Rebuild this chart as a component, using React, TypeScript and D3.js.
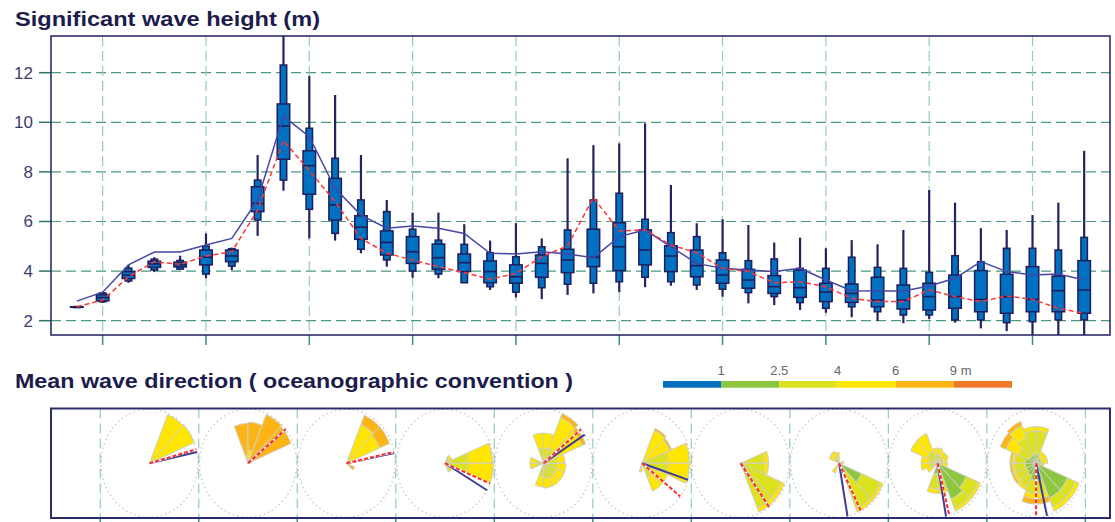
import React from 'react';
import * as d3 from 'd3';

// Ensemble significant wave height (m), one box every 6 h
const hsMin = [2.52, 2.72, 3.53, 3.96, 4.05, 3.71, 4.04, 5.42, 7.24, 5.32, 5.23, 4.72, 4.18, 3.73, 3.71, 3.53, 3.24, 2.94, 2.87, 3.04, 3.1, 3.15, 3.35, 3.41, 3.24, 2.97, 2.7, 2.63, 2.43, 2.32, 2.14, 1.99, 1.9, 2.06, 1.92, 1.69, 1.58, 1.3, 1.3, 1.3];
const hsP10 = [2.53, 2.76, 3.6, 4.04, 4.08, 3.88, 4.2, 6.06, 7.67, 6.49, 5.52, 4.88, 4.45, 4.0, 3.88, 3.53, 3.37, 3.15, 3.33, 3.47, 3.51, 3.57, 3.75, 3.57, 3.44, 3.27, 3.13, 2.97, 2.73, 2.5, 2.56, 2.36, 2.23, 2.23, 2.03, 2.03, 1.92, 1.96, 2.03, 2.03];
const hsP25 = [2.54, 2.8, 3.7, 4.15, 4.17, 4.25, 4.38, 6.4, 8.51, 7.1, 6.06, 5.28, 4.65, 4.31, 4.07, 3.98, 3.53, 3.51, 3.75, 3.94, 4.18, 4.02, 4.25, 3.98, 3.77, 3.51, 3.31, 3.1, 2.94, 2.77, 2.74, 2.56, 2.47, 2.43, 2.5, 2.36, 2.3, 2.36, 2.36, 2.3];
const hsMedian = [2.55, 2.93, 3.84, 4.29, 4.26, 4.56, 4.61, 6.73, 9.85, 8.25, 6.67, 5.77, 5.16, 4.78, 4.54, 4.34, 3.98, 3.77, 4.31, 4.45, 4.56, 4.98, 4.85, 4.61, 4.22, 3.84, 3.64, 3.37, 3.33, 3.15, 3.1, 2.83, 2.83, 2.97, 2.97, 2.86, 2.97, 2.86, 3.21, 3.24];
const hsP75 = [2.56, 3.05, 3.98, 4.4, 4.36, 4.85, 4.85, 7.4, 10.74, 8.85, 7.74, 6.23, 5.62, 5.39, 5.09, 4.69, 4.41, 4.25, 4.65, 4.88, 5.69, 5.95, 5.66, 5.02, 4.85, 4.45, 4.07, 3.82, 4.04, 3.51, 3.48, 3.75, 3.44, 3.51, 3.84, 4.02, 3.87, 4.18, 3.8, 4.42];
const hsP90 = [2.57, 3.12, 4.12, 4.48, 4.43, 5.01, 4.9, 7.67, 12.31, 9.76, 8.55, 6.87, 6.4, 5.69, 5.25, 5.08, 4.74, 4.58, 4.98, 5.66, 6.87, 7.14, 6.09, 5.55, 5.39, 4.74, 4.42, 4.49, 4.11, 4.11, 4.56, 4.15, 4.11, 3.95, 4.62, 4.38, 4.92, 4.92, 4.85, 5.36];
const hsMax = [2.58, 3.16, 4.25, 4.56, 4.62, 5.52, 4.95, 8.68, 14.0, 11.87, 11.1, 8.68, 6.87, 6.36, 6.36, 5.89, 5.23, 5.93, 5.32, 8.55, 9.08, 9.15, 9.96, 7.47, 5.93, 6.09, 5.86, 5.15, 5.35, 4.92, 5.25, 5.08, 5.66, 7.27, 6.76, 5.73, 5.66, 6.26, 6.76, 8.85];
const hsMean = [2.79, 3.15, 4.25, 4.77, 4.77, 5.05, 5.32, 6.87, 10.25, 9.42, 7.34, 6.26, 5.73, 5.82, 5.73, 5.52, 4.72, 4.69, 4.78, 4.69, 4.54, 5.39, 5.66, 4.98, 4.31, 4.11, 4.04, 3.98, 4.11, 3.64, 3.21, 3.2, 3.2, 3.4, 3.71, 4.38, 3.98, 3.84, 3.88, 3.64];
const hsControl = [2.56, 2.83, 3.77, 4.38, 4.27, 4.61, 4.78, 6.46, 9.26, 8.05, 6.8, 5.32, 4.72, 4.45, 4.18, 3.94, 3.67, 3.91, 4.58, 5.02, 6.96, 5.62, 5.66, 5.05, 4.74, 4.11, 3.98, 3.53, 3.57, 3.37, 2.9, 2.77, 2.77, 3.24, 2.97, 2.77, 3.0, 2.86, 2.5, 2.3];

const hsTicks = [2, 4, 6, 8, 10, 12];
const dayStartSteps = [1, 5, 9, 13, 17, 21, 25, 29, 33, 37];
const roseDayTicks = [0, 1, 2, 3, 4, 5, 6, 7, 8, 9, 10];

// height classes: <1, 1-2.5, 2.5-4, 4-6, 6-9, >9 m
const classLabels = ['1', '2.5', '4', '6', '9 m'];
const classColors = ['#0070c0', '#8dc63f', '#dde21f', '#ffe600', '#fdb515', '#f07828'];

// wave roses: [direction bin start (deg), share per height class]
type Bin = [number, number[]];
const rose1: Bin[] = [[22.5, [0, 0, 0, 49, 0, 0]], [45, [0, 0, 0, 50, 0, 0]]];
const rose2: Bin[] = [[337.5, [0, 0, 0, 8, 29, 0]], [0, [0, 0, 0, 12, 26, 0]], [22.5, [0, 0, 0, 0, 49, 0]], [45, [0, 0, 0, 0, 48, 0]]];
const rose3: Bin[] = [[22.5, [0, 0, 0, 39, 9, 0]], [45, [0, 0, 0, 37, 11, 0]], [112.5, [0, 0, 0, 0, 9, 0]]];
const rose4: Bin[] = [[22.5, [0, 0, 5, 3, 0, 0]], [45, [0, 0, 5, 3, 0, 0]], [67.5, [0, 0, 24, 25, 0, 0]], [90, [0, 0, 24, 26, 0, 0]], [112.5, [0, 0, 9, 0, 0, 0]], [135, [0, 0, 9, 0, 0, 0]]];
const rose5: Bin[] = [[337.5, [0, 0, 14, 14, 0, 0]], [0, [0, 0, 14, 14, 0, 0]], [22.5, [0, 0, 15, 31, 4, 0]], [45, [0, 0, 15, 28, 4, 0]], [67.5, [0, 0, 14, 8, 0, 0]], [90, [0, 0, 14, 9, 0, 0]], [112.5, [0, 0, 14, 9, 0, 0]], [135, [0, 0, 14, 9, 0, 0]], [157.5, [0, 0, 14, 9, 0, 0]], [180, [0, 0, 12, 10, 0, 0]], [247.5, [0, 0, 8, 6, 0, 0]], [270, [0, 0, 8, 6, 0, 0]]];
const rose6: Bin[] = [[22.5, [0, 0, 0, 33, 2, 0]], [45, [0, 0, 0, 31, 2, 0]], [67.5, [0, 0, 27, 22, 0, 0]], [90, [0, 0, 27, 22, 0, 0]], [112.5, [0, 0, 14, 14, 0, 0]], [135, [0, 0, 14, 14, 0, 0]], [180, [0, 0, 5, 3, 0, 0]]];
const rose7: Bin[] = [[67.5, [0, 0, 25, 4, 0, 0]], [90, [0, 0, 25, 4, 0, 0]], [112.5, [0, 0, 45, 4, 0, 0]], [135, [0, 0, 45, 4, 0, 0]]];
const rose8: Bin[] = [[292.5, [0, 0, 5, 6, 0, 0]], [315, [0, 0, 5, 7, 0, 0]], [337.5, [0, 0, 5, 5, 0, 0]], [67.5, [0, 0, 0, 5, 0, 0]], [112.5, [0, 25, 21, 3, 0, 0]], [135, [0, 10, 36, 3, 0, 0]], [202.5, [0, 0, 4, 6, 0, 0]]];
const rose9: Bin[] = [[0, [0, 0, 8, 6, 0, 0]], [22.5, [0, 0, 6, 6, 0, 0]], [45, [0, 0, 6, 6, 0, 0]], [67.5, [0, 0, 5, 5, 0, 0]], [90, [0, 0, 5, 5, 0, 0]], [112.5, [0, 32, 13, 3, 0, 0]], [135, [0, 36, 9, 3, 0, 0]], [157.5, [0, 14, 10, 4, 0, 0]], [180, [0, 10, 14, 4, 0, 0]], [225, [0, 0, 6, 6, 0, 0]], [247.5, [0, 0, 8, 9, 0, 0]], [270, [0, 0, 8, 9, 0, 0]], [292.5, [0, 0, 12, 18, 0, 0]], [315, [0, 0, 12, 18, 0, 0]], [337.5, [0, 0, 8, 6, 0, 0]]];
const rose10: Bin[] = [[0, [0, 8, 22, 4, 0, 0]], [22.5, [0, 5, 0, 7, 0, 0]], [45, [0, 5, 0, 7, 0, 0]], [67.5, [0, 5, 0, 7, 0, 0]], [90, [0, 5, 3, 0, 0, 0]], [112.5, [0, 35, 9, 4, 0, 0]], [135, [0, 35, 9, 4, 0, 0]], [157.5, [0, 16, 12, 5, 5, 0]], [180, [0, 16, 12, 5, 5, 0]], [202.5, [0, 12, 12, 3, 0, 0]], [225, [0, 11, 11, 3, 2, 0]], [247.5, [0, 11, 11, 3, 2, 0]], [270, [0, 11, 11, 3, 2, 0]], [292.5, [0, 8, 12, 14, 6, 0]], [315, [0, 8, 18, 12, 4, 0]], [337.5, [0, 8, 22, 4, 0, 0]]];
const roses = [rose1, rose2, rose3, rose4, rose5, rose6, rose7, rose8, rose9, rose10];

// mean direction: ensemble (blue) and control (red), degrees
const meanDir = [78, 51, 79, 120, 58, 108, 144, 170, 170, 167];
const ctrlDir = [75, 51, 78, 112, 51, 128, 144, 153, 166, 180];

const NAVY = '#2c2c6c';
const GRID_H = '#4a9a80';
const GRID_V = '#93cdb7';
const rad = (deg: number) => (deg * Math.PI) / 180;

export default function App() {
  const top = { l: 51, r: 1110, t: 36, b: 335 };
  const bot = { l: 51, r: 1110, t: 408.5, b: 518 };

  const x = d3.scaleLinear().domain([-1, 40]).range([top.l, top.r]);
  const y = d3.scaleLinear().domain([1.423, 13.48]).range([top.b, top.t]);
  const xd = d3.scaleLinear().domain([-0.5, 10.25]).range([bot.l, bot.r]);
  const r = d3.scaleLinear().domain([0, 50]).range([0, 48.5]);
  const stretch = 1.113;
  const cy = (bot.t + bot.b) / 2;
  const lx = d3.scaleLinear().domain([0, 6]).range([663, 1012]);

  const steps = d3.range(hsMedian.length);
  const arc = d3.arc<any>();
  const meanLine = d3.line<number>().x((i) => x(i)).y((i) => y(hsMean[i]));
  const ctrlLine = d3.line<number>().x((i) => x(i)).y((i) => y(hsControl[i]));

  const wNarrow = 6.5;
  const wWide = 12.5;

  return (
    <svg width={1115} height={522} style={{ position: 'absolute', left: 0, top: 0, background: '#fff' }}
      fontFamily="'Liberation Sans', Arial, sans-serif">
      <defs>
        <clipPath id="topClip"><rect x={top.l} y={top.t} width={top.r - top.l} height={top.b - top.t} /></clipPath>
        <clipPath id="botClip"><rect x={bot.l} y={bot.t} width={bot.r - bot.l} height={bot.b - bot.t} /></clipPath>
      </defs>

      {/* titles */}
      <text x={15} y={26} fontSize={21} fontWeight="bold" fill="#1c1c4c" textLength={305} lengthAdjust="spacingAndGlyphs">
        Significant wave height (m)
      </text>
      <text x={15} y={388} fontSize={21} fontWeight="bold" fill="#1c1c4c" textLength={558} lengthAdjust="spacingAndGlyphs">
        Mean wave direction ( oceanographic convention )
      </text>

      {/* top panel grid */}
      {hsTicks.map((t) => (
        <g key={'h' + t}>
          <line x1={top.l} x2={top.r} y1={y(t)} y2={y(t)} stroke={GRID_H} strokeWidth={1.2} strokeDasharray="10,5" />
          <line x1={top.l - 12} x2={top.l} y1={y(t)} y2={y(t)} stroke="#2a7a60" strokeWidth={1.5} />
          <text x={33} y={y(t) + 6} fontSize={17} textAnchor="end" fill="#3c3c6c">{t}</text>
        </g>
      ))}
      {dayStartSteps.map((s) => (
        <g key={'v' + s}>
          <line x1={x(s)} x2={x(s)} y1={top.t} y2={top.b} stroke={GRID_V} strokeWidth={1.2} strokeDasharray="10,5" />
          <line x1={x(s)} x2={x(s)} y1={top.b} y2={top.b + 10} stroke="#3d8f75" strokeWidth={1.5} />
        </g>
      ))}

      {/* boxes */}
      <g clipPath="url(#topClip)">
        {steps.map((i) => (
          <g key={'b' + i}>
            <line x1={x(i)} x2={x(i)} y1={y(hsMin[i])} y2={y(hsMax[i])} stroke="#23235f" strokeWidth={2.2} />
            <rect x={x(i) - wNarrow / 2} width={wNarrow} y={y(hsP90[i])} height={y(hsP10[i]) - y(hsP90[i])}
              fill="#0070c0" stroke="#1e1e5c" strokeWidth={1.5} />
            <rect x={x(i) - wWide / 2} width={wWide} y={y(hsP75[i])} height={Math.max(0.5, y(hsP25[i]) - y(hsP75[i]))}
              fill="#0070c0" stroke="#1e1e5c" strokeWidth={1.5} />
            <line x1={x(i) - wWide / 2} x2={x(i) + wWide / 2} y1={y(hsMedian[i])} y2={y(hsMedian[i])} stroke="#1e1e5c" strokeWidth={1.6} />
          </g>
        ))}
        <path d={meanLine(steps) || ''} fill="none" stroke="#4646a8" strokeWidth={1.5} />
        <path d={ctrlLine(steps) || ''} fill="none" stroke="#ff3535" strokeWidth={1.5} strokeDasharray="5,3" />
      </g>
      <rect x={top.l} y={top.t} width={top.r - top.l} height={top.b - top.t} fill="none" stroke={NAVY} strokeWidth={1.6} />

      {/* legend */}
      {classColors.map((c, k) => (
        <rect key={'l' + k} x={lx(k)} y={381} width={lx(k + 1) - lx(k)} height={6.7} fill={c} />
      ))}
      {classLabels.map((t, k) => (
        <text key={'lt' + k} x={t === '9 m' ? lx(k + 1) - 4 : lx(k + 1)} y={375} fontSize={13}
          textAnchor={t === '9 m' ? 'start' : 'middle'} fill="#666">{t}</text>
      ))}

      {/* bottom panel */}
      {roseDayTicks.map((d) => (
        <g key={'rv' + d}>
          <line x1={xd(d)} x2={xd(d)} y1={bot.t} y2={bot.b} stroke={GRID_V} strokeWidth={1.2} strokeDasharray="10,5" />
          <line x1={xd(d)} x2={xd(d)} y1={bot.b} y2={bot.b + 10} stroke="#3d8f75" strokeWidth={1.5} />
        </g>
      ))}
      <g clipPath="url(#botClip)">
        {roses.map((bins, d) => {
          const cx = xd(d + 0.5);
          const blueEnd = d3.pointRadial(rad(meanDir[d]), r(50));
          const redEnd = d3.pointRadial(rad(ctrlDir[d]), r(50));
          return (
            <g key={'rose' + d} transform={`translate(${cx},${cy}) scale(1,${stretch})`}>
              <circle r={r(50)} fill="none" stroke="#c4c4c4" strokeWidth={1.2} strokeDasharray="1.5,3"
                vectorEffect="non-scaling-stroke" />
              {bins.map(([dir, shares], b) => {
                const cum = d3.cumsum(shares);
                return shares.map((s, k) => s > 0 ? (
                  <path key={b + '-' + k}
                    d={arc({ innerRadius: r(cum[k] - s), outerRadius: r(cum[k]), startAngle: rad(dir), endAngle: rad(dir + 22.5) }) || ''}
                    fill={classColors[k]} stroke="#cfcfc4" strokeWidth={1} vectorEffect="non-scaling-stroke" />
                ) : null);
              })}
              <line x1={0} y1={0} x2={blueEnd[0]} y2={blueEnd[1]} stroke="#3c3c9c" strokeWidth={2}
                vectorEffect="non-scaling-stroke" />
              <line x1={0} y1={0} x2={redEnd[0]} y2={redEnd[1]} stroke="#fff" strokeWidth={2}
                vectorEffect="non-scaling-stroke" />
              <line x1={0} y1={0} x2={redEnd[0]} y2={redEnd[1]} stroke="#ff2a2a" strokeWidth={2} strokeDasharray="4,2"
                vectorEffect="non-scaling-stroke" />
            </g>
          );
        })}
      </g>
      <rect x={bot.l} y={bot.t} width={bot.r - bot.l} height={bot.b - bot.t} fill="none" stroke={NAVY} strokeWidth={2} />
    </svg>
  );
}
